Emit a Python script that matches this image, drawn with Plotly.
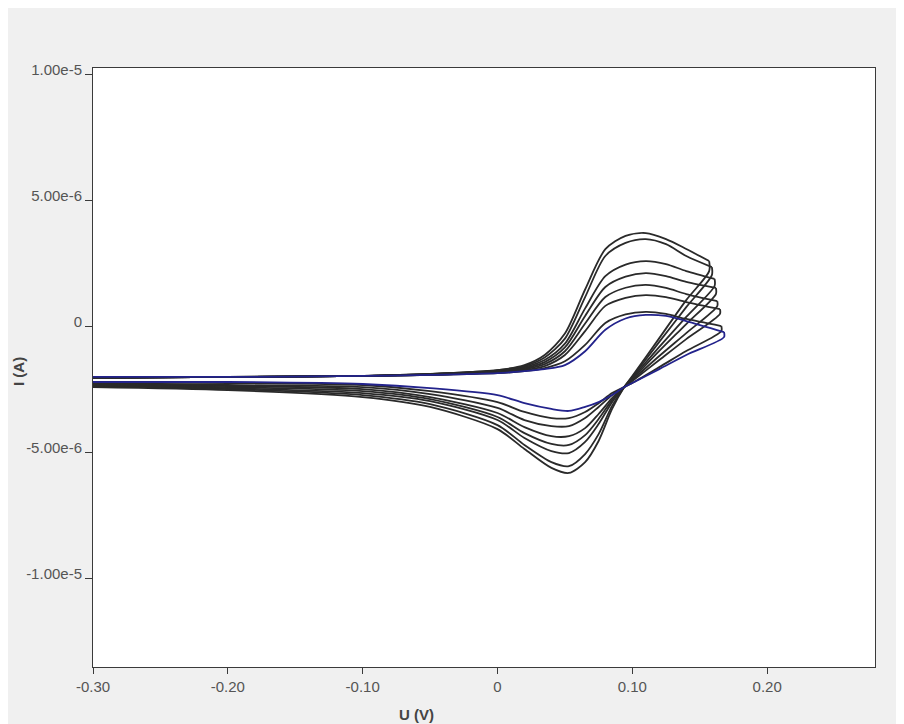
import plotly.graph_objects as go

# Potential grids (V)
E_FWD = [-0.30, -0.20, -0.10, -0.05, 0.00, 0.02, 0.035, 0.05, 0.065, 0.08, 0.095, 0.11, 0.125, 0.14]
E_REV = [0.14, 0.12, 0.10, 0.094, 0.085, 0.075, 0.065, 0.053, 0.04, 0.02, 0.00, -0.05, -0.10, -0.20, -0.30]
E_VERTEX = [0.157, 0.159, 0.161, 0.162, 0.163, 0.165, 0.166, 0.168]

# Currents in microamps
I_FWD = [
    [-2.06, -2.02, -1.98, -1.90, -1.75, -1.55, -1.15, -0.30, 1.45, 3.05, 3.58, 3.69, 3.45, 3.06],
    [-2.06, -2.02, -1.98, -1.90, -1.75, -1.59, -1.25, -0.50, 1.15, 2.78, 3.30, 3.45, 3.25, 2.78],
    [-2.06, -2.02, -1.98, -1.90, -1.79, -1.63, -1.35, -0.70, 0.70, 1.98, 2.44, 2.58, 2.46, 2.18],
    [-2.06, -2.02, -1.98, -1.90, -1.79, -1.67, -1.43, -0.85, 0.40, 1.55, 1.96, 2.10, 1.98, 1.75],
    [-2.06, -2.02, -1.98, -1.94, -1.83, -1.71, -1.51, -1.00, 0.10, 1.15, 1.52, 1.63, 1.51, 1.27],
    [-2.06, -2.02, -1.98, -1.94, -1.83, -1.75, -1.59, -1.15, -0.20, 0.80, 1.12, 1.23, 1.15, 0.95],
    [-2.02, -2.02, -1.98, -1.94, -1.87, -1.79, -1.67, -1.40, -0.75, 0.12, 0.46, 0.56, 0.48, 0.28],
    [-2.02, -2.02, -1.98, -1.94, -1.87, -1.79, -1.71, -1.55, -1.00, -0.15, 0.30, 0.44, 0.40, 0.20],
]
I_VERTEX = [2.58, 2.34, 1.87, 1.51, 0.99, 0.67, 0.00, -0.24]
I_DROP = [2.18, 2.02, 1.59, 1.27, 0.79, 0.48, -0.20, -0.44]
I_REV = [
    [1.03, -0.48, -1.98, -2.42, -3.29, -4.56, -5.40, -5.83, -5.63, -4.88, -4.09, -3.21, -2.82, -2.54, -2.42],
    [0.75, -0.63, -2.02, -2.42, -3.17, -4.29, -5.08, -5.56, -5.40, -4.72, -3.93, -3.10, -2.74, -2.50, -2.38],
    [0.36, -0.83, -2.06, -2.42, -3.02, -3.89, -4.60, -5.04, -4.96, -4.44, -3.73, -2.98, -2.66, -2.46, -2.34],
    [0.08, -0.99, -2.10, -2.42, -2.94, -3.69, -4.33, -4.72, -4.68, -4.25, -3.61, -2.90, -2.58, -2.42, -2.34],
    [-0.28, -1.19, -2.14, -2.42, -2.86, -3.49, -4.05, -4.37, -4.37, -4.01, -3.45, -2.82, -2.50, -2.38, -2.30],
    [-0.52, -1.35, -2.18, -2.42, -2.74, -3.21, -3.65, -3.97, -3.97, -3.73, -3.25, -2.70, -2.42, -2.34, -2.26],
    [-0.99, -1.63, -2.26, -2.42, -2.66, -3.06, -3.41, -3.65, -3.65, -3.41, -3.02, -2.58, -2.34, -2.26, -2.22],
    [-1.15, -1.71, -2.26, -2.42, -2.74, -3.02, -3.21, -3.37, -3.29, -3.06, -2.74, -2.46, -2.30, -2.22, -2.22],
]
COLORS = ["#2a2a2a"] * 7 + ["#23238c"]

X_TICKS = [-0.30, -0.20, -0.10, 0.0, 0.10, 0.20]
X_TICKTEXT = ["-0.30", "-0.20", "-0.10", "0", "0.10", "0.20"]
Y_TICKS = [1e-5, 5e-6, 0, -5e-6, -1e-5]
Y_TICKTEXT = ["1.00e-5", "5.00e-6", "0", "-5.00e-6", "-1.00e-5"]

UA = 1e-6

fig = go.Figure()
for k in range(len(I_FWD)):
    xf = E_FWD + [E_VERTEX[k]]
    yf = [v * UA for v in I_FWD[k] + [I_VERTEX[k]]]
    xr = [E_VERTEX[k], E_VERTEX[k]] + E_REV
    yr = [v * UA for v in [I_VERTEX[k], I_DROP[k]] + I_REV[k]]
    for xx, yy in ((xf, yf), (xr, yr)):
        fig.add_trace(go.Scatter(
            x=xx, y=yy, mode="lines",
            line=dict(color=COLORS[k], width=1.8, shape="spline", smoothing=0.8),
            showlegend=False, hoverinfo="skip"))

FONT = "Liberation Sans, Arial, sans-serif"
tick_font = dict(family=FONT, size=15, color="#555555")
title_font = dict(family=FONT, size=15, color="#444444")

W, H = 904, 716
L, R, T, B = 85, 37, 60, 57
fig.update_layout(
    width=W, height=H,
    margin=dict(l=L, r=R, t=T, b=B),
    paper_bgcolor="#f0f0f0",
    plot_bgcolor="#ffffff",
    showlegend=False,
    font=tick_font,
)
fig.update_xaxes(
    range=[-0.30, 0.28], tickvals=X_TICKS, ticktext=X_TICKTEXT,
    showgrid=False, zeroline=False, showline=True, linecolor="#3a3a3a", linewidth=1,
    mirror=True, ticks="outside", ticklen=6, tickcolor="#3a3a3a", tickfont=tick_font,
)
fig.update_yaxes(
    range=[-1.353e-5, 1.024e-5], tickvals=Y_TICKS, ticktext=Y_TICKTEXT,
    showgrid=False, zeroline=False, showline=True, linecolor="#3a3a3a", linewidth=1,
    mirror=True, ticks="outside", ticklen=7, tickcolor="#3a3a3a", tickfont=tick_font,
    ticklabelshift=-4, ticklabelstandoff=0,
)
PW, PH = W - L - R, H - T - B
fig.add_annotation(text="<b>U (V)</b>", xref="paper", yref="paper",
                   x=(408 - L) / PW, y=-(706 - (H - B)) / PH,
                   xanchor="center", yanchor="middle", showarrow=False, font=title_font)
fig.add_annotation(text="<b>I (A)</b>", xref="paper", yref="paper",
                   x=-(L - 10) / PW, y=((H - B) - 364) / PH,
                   xanchor="center", yanchor="middle", showarrow=False, textangle=-90,
                   font=title_font)

fig.write_html("out.html")
